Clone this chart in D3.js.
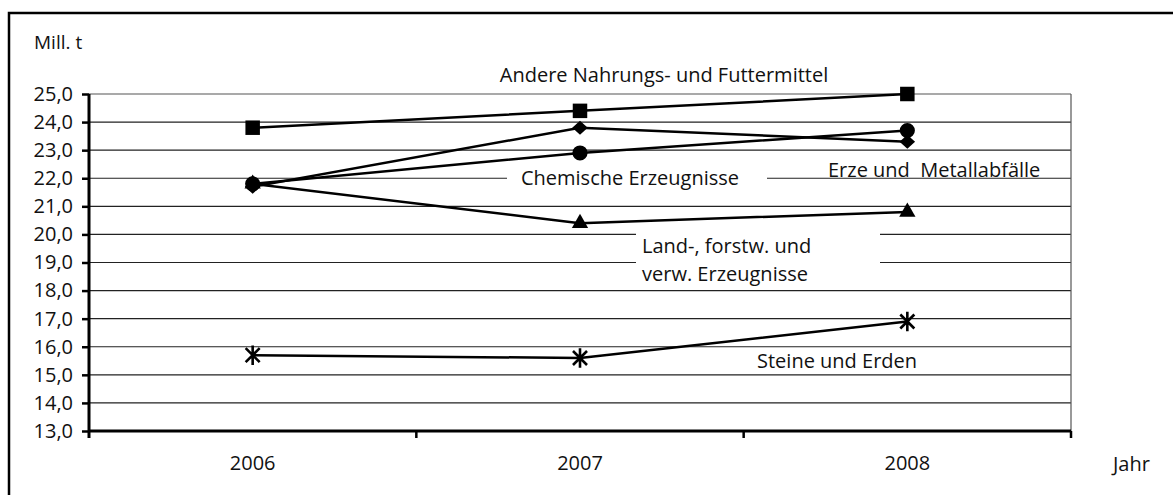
<!DOCTYPE html>
<html>
<head>
<meta charset="utf-8">
<script src="https://cdn.jsdelivr.net/npm/d3@7"></script>
<style>
body { margin: 0; background: #fff; }
svg text { font-family: "Open Sans", sans-serif; fill: #111; white-space: pre; }
</style>
</head>
<body>
<svg id="chart" width="1173" height="495"></svg>
<script>
var years = ["2006", "2007", "2008"];
var yTicks = [13, 14, 15, 16, 17, 18, 19, 20, 21, 22, 23, 24, 25];

var nahrung = [23.8, 24.4, 25.0];
var erze = [21.7, 23.8, 23.3];
var chemie = [21.8, 22.9, 23.7];
var land = [21.8, 20.4, 20.8];
var steine = [15.7, 15.6, 16.9];

var series = [
    { name: "nahrung", values: nahrung, symbol: "square" },
    { name: "erze", values: erze, symbol: "diamond" },
    { name: "chemie", values: chemie, symbol: "circle" },
    { name: "land", values: land, symbol: "triangle" },
    { name: "steine", values: steine, symbol: "asterisk" }
];

var svg = d3.select("#chart");
var pLeft = 89, pRight = 1071, pTop = 94, pBottom = 431;
var fs = 20;

var x = d3.scaleBand().domain(years).range([pLeft, pRight]);
var y = d3.scaleLinear().domain([13, 25]).range([pBottom, pTop]);
var cx = function(d, i) { return x(years[i]) + x.bandwidth() / 2; };

// outer frame
svg.append("rect")
    .attr("x", 9).attr("y", 13).attr("width", 1300).attr("height", 600)
    .attr("fill", "none").attr("stroke", "#000").attr("stroke-width", 2.5);

svg.append("text").attr("x", 34).attr("y", 49).attr("font-size", fs - 1).text("Mill. t");

// grid
svg.append("g").selectAll("line").data(yTicks).enter().append("line")
    .attr("x1", pLeft).attr("x2", pRight)
    .attr("y1", function(d) { return y(d); }).attr("y2", function(d) { return y(d); })
    .attr("stroke", function(d) { return d == 25 ? "#555" : "#222"; })
    .attr("stroke-width", 1.2);

svg.append("line").attr("x1", pRight).attr("x2", pRight).attr("y1", pTop).attr("y2", pBottom)
    .attr("stroke", "#555").attr("stroke-width", 1.2);

// y axis
var yAxis = d3.axisLeft(y).tickValues(yTicks).tickSize(7).tickPadding(9)
    .tickFormat(function(d) { return d3.format(".1f")(d).replace(".", ","); });
var gy = svg.append("g").attr("transform", "translate(" + pLeft + ",0)").call(yAxis);
gy.select(".domain").attr("stroke-width", 3).attr("d", "M0," + (pBottom + 7) + "V" + pTop);
gy.selectAll(".tick line").attr("stroke-width", 2.5);
gy.selectAll("text").attr("font-size", fs).attr("font-family", "Open Sans").attr("fill", "#111");

// x axis
var xAxis = d3.axisBottom(x).tickSize(0).tickPadding(25);
var gx = svg.append("g").attr("transform", "translate(0," + pBottom + ")").call(xAxis);
gx.select(".domain").attr("stroke-width", 3).attr("d", "M" + pLeft + ",0H" + pRight);
gx.selectAll("text").attr("font-size", fs).attr("font-family", "Open Sans").attr("fill", "#111");
var xEdges = years.map(function(d) { return x(d) + x.bandwidth(); });
gx.selectAll(".edge").data(xEdges).enter().append("line")
    .attr("x1", function(d) { return d; }).attr("x2", function(d) { return d; })
    .attr("y1", 0).attr("y2", 7).attr("stroke", "#000").attr("stroke-width", 2.5);

svg.append("text").attr("x", 1113).attr("y", 471).attr("font-size", fs).text("Jahr");

// label boxes
svg.append("rect").attr("x", 507).attr("y", 166).attr("width", 260).attr("height", 26).attr("fill", "#fff");
svg.append("rect").attr("x", 636).attr("y", 232).attr("width", 244).attr("height", 58).attr("fill", "#fff");

// lines
var line = d3.line().x(cx).y(function(d) { return y(d); });
svg.append("g").selectAll("path").data(series).enter().append("path")
    .attr("d", function(s) { return line(s.values); })
    .attr("fill", "none").attr("stroke", "#000").attr("stroke-width", 2.5);

// markers
var diamond = { draw: function(c, size) {
    var w = Math.sqrt(size) / 2, h = w * 0.9;
    c.moveTo(0, -h); c.lineTo(w, 0); c.lineTo(0, h); c.lineTo(-w, 0); c.closePath();
} };
var star = { draw: function(c, size) {
    var r = Math.sqrt(size) / 2, d = r * 0.72;
    c.moveTo(0, -r); c.lineTo(0, r);
    c.moveTo(-d, -d); c.lineTo(d, d);
    c.moveTo(d, -d); c.lineTo(-d, d);
} };
var symbols = {
    square: d3.symbol(d3.symbolSquare, 210),
    circle: d3.symbol(d3.symbolCircle, 180),
    diamond: d3.symbol(diamond, 240),
    triangle: d3.symbol(d3.symbolTriangle, 115),
    asterisk: d3.symbol(star, 380)
};
series.forEach(function(s) {
    svg.append("g").selectAll("path").data(s.values).enter().append("path")
        .attr("transform", function(d, i) { return "translate(" + cx(d, i) + "," + y(d) + ")"; })
        .attr("d", symbols[s.symbol]())
        .attr("fill", s.symbol == "asterisk" ? "none" : "#000")
        .attr("stroke", "#000")
        .attr("stroke-width", s.symbol == "asterisk" ? 2.6 : 0);
});

// labels
svg.append("text").attr("x", 664).attr("y", 82).attr("text-anchor", "middle").attr("font-size", fs)
    .text("Andere Nahrungs- und Futtermittel");
svg.append("text").attr("x", 630).attr("y", 185).attr("text-anchor", "middle").attr("font-size", fs)
    .text("Chemische Erzeugnisse");
svg.append("text").attr("x", 828).attr("y", 177).attr("font-size", fs)
    .text("Erze und  Metallabfälle");
svg.append("text").attr("x", 642).attr("y", 253).attr("font-size", fs).text("Land-, forstw. und");
svg.append("text").attr("x", 642).attr("y", 281).attr("font-size", fs).text("verw. Erzeugnisse");
svg.append("text").attr("x", 757).attr("y", 368).attr("font-size", fs).text("Steine und Erden");
</script>
</body>
</html>
